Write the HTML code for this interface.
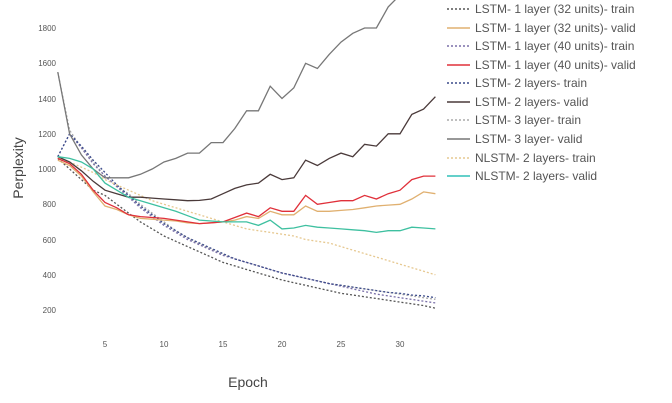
<!DOCTYPE html>
<html><head><meta charset="utf-8"><style>
html,body{margin:0;padding:0;background:#fff;width:672px;height:403px;overflow:hidden}
text{font-family:"Liberation Sans",sans-serif}
</style></head><body>
<svg id="s" width="672" height="403" xmlns="http://www.w3.org/2000/svg">
<g font-size="8" fill="#555" text-anchor="end">
<text x="56" y="313">200</text><text x="56" y="278">400</text><text x="56" y="243">600</text>
<text x="56" y="207">800</text><text x="56" y="172">1000</text><text x="56" y="137">1200</text>
<text x="56" y="102">1400</text><text x="56" y="66">1600</text><text x="56" y="31">1800</text>
</g>
<g font-size="8" fill="#555" text-anchor="middle">
<text x="105" y="347">5</text><text x="164" y="347">10</text><text x="223" y="347">15</text>
<text x="282" y="347">20</text><text x="341" y="347">25</text><text x="400" y="347">30</text>
</g>
<text x="248" y="387" font-size="14" fill="#444" text-anchor="middle">Epoch</text>
<text transform="translate(23,168) rotate(-90)" font-size="14" fill="#444" text-anchor="middle">Perplexity</text>
<g id="lines" fill="none"></g>
<g font-size="12" fill="#555">
<text x="475" y="13">LSTM- 1 layer (32 units)- train</text>
<text x="475" y="32">LSTM- 1 layer (32 units)- valid</text>
<text x="475" y="50">LSTM- 1 layer (40 units)- train</text>
<text x="475" y="69">LSTM- 1 layer (40 units)- valid</text>
<text x="475" y="87">LSTM- 2 layers- train</text>
<text x="475" y="106">LSTM- 2 layers- valid</text>
<text x="475" y="124">LSTM- 3 layer- train</text>
<text x="475" y="143">LSTM- 3 layer- valid</text>
<text x="475" y="162">NLSTM- 2 layers- train</text>
<text x="475" y="180">NLSTM- 2 layers- valid</text>
</g>
<g stroke-width="1.5">
<line x1="447" x2="470" y1="9" y2="9" stroke="#555" stroke-dasharray="2,2"/>
<line x1="447" x2="470" y1="28" y2="28" stroke="#e0b070"/>
<line x1="447" x2="470" y1="46" y2="46" stroke="#7a6fa8" stroke-dasharray="2,2"/>
<line x1="447" x2="470" y1="65" y2="65" stroke="#e0303a"/>
<line x1="447" x2="470" y1="83" y2="83" stroke="#3a4a8a" stroke-dasharray="2,2"/>
<line x1="447" x2="470" y1="102" y2="102" stroke="#4a3a3a"/>
<line x1="447" x2="470" y1="120" y2="120" stroke="#aaa" stroke-dasharray="2,2"/>
<line x1="447" x2="470" y1="139" y2="139" stroke="#777"/>
<line x1="447" x2="470" y1="158" y2="158" stroke="#e6c890" stroke-dasharray="2,2"/>
<line x1="447" x2="470" y1="176" y2="176" stroke="#30c0b8"/>
</g>
</svg>
<script>
function X(e){return 105+(e-5)*11.8}
function Y(v){return 310-(v-200)*0.17625}
var S=[
 ["#aaa","2,2",[1550,1220,1120,1040,960,900,860,800,750,700,650,610,575,545,515,490,470,450,430,410,395,380,365,350,340,330,320,310,300,290,280,270,260]],
 ["#555","2,2",[1060,1000,940,880,850,800,750,700,660,620,590,560,530,500,470,450,430,410,390,370,355,340,325,310,295,285,275,265,255,245,235,225,210]],
 ["#7a6fa8","2,2",[1070,1200,1120,1030,960,900,840,780,730,680,640,600,570,540,510,490,470,450,430,410,395,380,365,350,335,320,305,290,280,270,260,250,240]],
 ["#3a4a8a","2,2",[1070,1200,1130,1050,980,910,850,790,740,690,650,610,580,550,520,490,470,450,430,410,395,380,365,350,340,330,320,310,300,295,285,280,270]],
 ["#e6c890","2,2",[1060,1040,1010,980,940,910,880,850,820,800,780,760,740,720,700,680,660,650,640,630,620,600,590,580,560,540,520,500,480,460,440,420,400]],
 ["#777",null,[1550,1200,1080,1000,950,950,950,970,1000,1040,1060,1090,1090,1150,1150,1230,1330,1330,1470,1400,1460,1600,1570,1650,1720,1770,1800,1800,1920,2000,2050,2100,2150]],
 ["#4a3a3a",null,[1070,1040,990,930,880,860,840,840,835,830,825,820,822,830,860,890,910,920,970,940,950,1050,1020,1060,1090,1070,1140,1130,1200,1200,1310,1340,1410]],
 ["#e0b070",null,[1050,1020,960,870,790,770,740,720,715,710,705,695,690,695,700,710,730,720,760,740,740,790,760,760,765,770,780,790,795,800,830,870,860]],
 ["#e0303a",null,[1060,1030,970,880,810,780,740,730,725,720,710,700,690,695,700,725,750,730,780,760,760,850,800,810,820,820,850,830,860,880,940,960,960]],
 ["#3ec0a0",null,[1070,1060,1040,1000,920,880,840,820,800,780,760,735,710,705,700,700,700,680,710,660,665,680,670,665,660,655,650,640,650,650,670,665,660]]
];
var g=document.getElementById('lines'),h='';
S.forEach(function(s){var p=s[2].map(function(v,i){var y=Y(v);if(y<-5)y=-5;return X(i+1).toFixed(1)+','+y.toFixed(1)}).join(' ');
h+='<polyline points="'+p+'" stroke="'+s[0]+'" stroke-width="1.3"'+(s[1]?' stroke-dasharray="'+s[1]+'"':'')+'/>';});
g.innerHTML=h;
</script>
</body></html>
